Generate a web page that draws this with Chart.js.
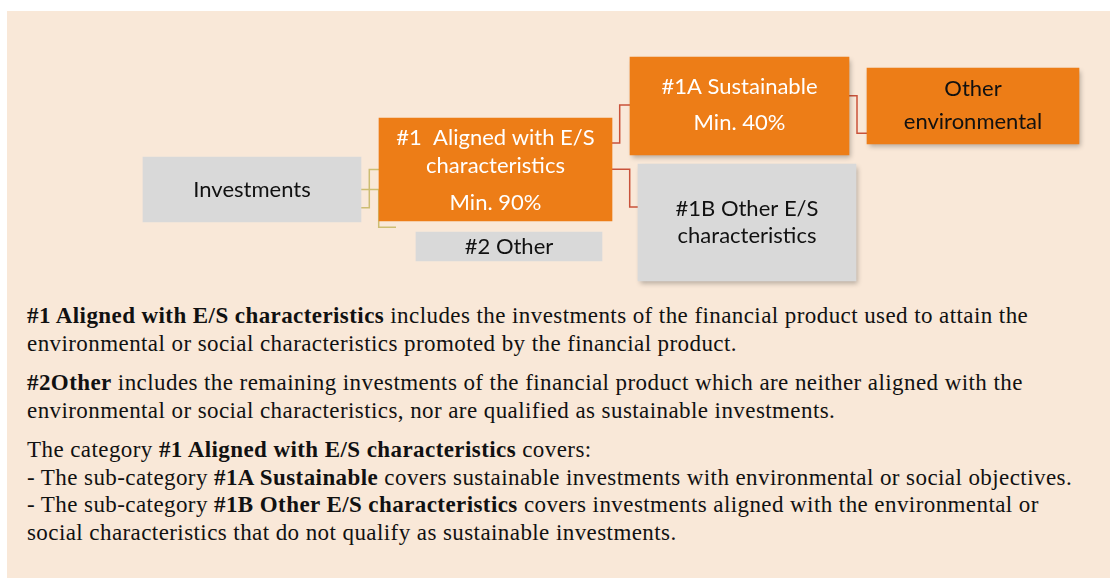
<!DOCTYPE html>
<html>
<head>
<meta charset="utf-8">
<script src="https://cdn.jsdelivr.net/npm/chart.js@4.4.1/dist/chart.umd.min.js"></script>
<style>
  body { margin: 0; width: 1110px; height: 579px; background: #fff; position: relative; overflow: hidden; }
  #panel { position: absolute; left: 7px; top: 11px; width: 1103px; height: 567px; background: #f9e8d8; }
  #diagram { position: absolute; left: 0; top: 0; }
  #notes { position: absolute; left: 27px; top: 302px; white-space: nowrap;
           font-family: "Liberation Serif", "Times New Roman", serif; font-size: 23px; letter-spacing: 0.42px;
           line-height: 27.5px; color: #111; }
  #notes p { margin: 0 0 12px 0; }
</style>
</head>
<body>
<div id="panel"></div>
<canvas id="diagram" width="1110" height="290"></canvas>
<div id="notes">
  <p><b>#1 Aligned with E/S characteristics</b> includes the investments of the financial product used to attain the<br>environmental or social characteristics promoted by the financial product.</p>
  <p><b>#2Other</b> includes the remaining investments of the financial product which are neither aligned with the<br>environmental or social characteristics, nor are qualified as sustainable investments.</p>
  <p>The category <b>#1 Aligned with E/S characteristics</b> covers:<br>- The sub-category <b>#1A Sustainable</b> covers sustainable investments with environmental or social objectives.<br>- The sub-category <b>#1B Other E/S characteristics</b> covers investments aligned with the environmental or<br>social characteristics that do not qualify as sustainable investments.</p>
</div>
<script>
// asset allocation tree: investments split into #1 / #2, #1 split into #1A / #1B

// data
const boxNames = ["Investments", "#1 Aligned with E/S characteristics", "#2 Other",
  "#1A Sustainable", "Other environmental", "#1B Other E/S characteristics"];
const boxLines = [["Investments"], ["#1  Aligned with E/S", "characteristics"], ["#2 Other"],
  ["#1A Sustainable"], ["Other", "environmental"], ["#1B Other E/S", "characteristics"]];
const minShares = [null, 90, null, 40, null, null];
const parentOf = [null, 0, 0, 1, 3, 1];

// layout (page pixels): [left, right, top, bottom]
const boxRects = [
  [143, 361, 157, 222],
  [379, 612, 118, 221],
  [416, 602, 232, 261],
  [630, 849, 57, 155],
  [867, 1079, 68, 144],
  [638, 856, 164, 281],
];
// text line offsets from box centre (last one is the share line if any)
const textOffsets = [[0], [-31.5, -3.5, 33.5], [0], [-19, 17], [-17, 16], [-13.5, 13.5]];
const ORANGE = "#ed7d17";
const GREY = "#d9d9d9";
const boxFill = [GREY, ORANGE, GREY, ORANGE, ORANGE, GREY];
const textColor = ["#111", "#fff", "#111", "#fff", "#111", "#111"];
const hasShadow = [false, false, false, true, true, true];
// connector anchors per child: fy/ty = fraction of parent/child height, elbow = px left of child, gap = end px left of child
const linkStyle = [null,
  { fy: 0.78, ty: 0.5, elbow: 9.7, gap: 0, color: "#cdbd72" },
  { fy: 0.5, ty: -0.16, elbow: 37.3, gap: 20, color: "#cdbd72" },
  { fy: 0.243, ty: 0.49, elbow: 10.3, gap: 0, color: "#c9523a" },
  { fy: 0.395, ty: 0.86, elbow: 10, gap: 0, color: "#c9523a" },
  { fy: 0.498, ty: 0.368, elbow: 8.3, gap: 0, color: "#c9523a" },
];

const datasets = [];

// connectors (drawn first, under boxes)
parentOf.forEach((p, i) => {
  if (p === null) return;
  const a = boxRects[p], b = boxRects[i], s = linkStyle[i];
  const y0 = a[2] + s.fy * (a[3] - a[2]);
  const y1 = b[2] + s.ty * (b[3] - b[2]);
  const ex = b[0] - s.elbow;
  datasets.push({
    type: "line",
    label: boxNames[p] + " > " + boxNames[i],
    data: [{ x: a[1], y: y0 }, { x: ex, y: y0 }, { x: ex, y: y1 }, { x: b[0] - s.gap, y: y1 }],
    borderColor: s.color,
    borderWidth: 1.5,
    pointRadius: 0,
    fill: false,
    tension: 0,
    order: 2,
  });
});

// boxes as floating bars
boxRects.forEach((r, i) => {
  datasets.push({
    type: "bar",
    label: boxNames[i],
    data: [{ x: (r[0] + r[1]) / 2, y: [r[2], r[3]] }],
    barThickness: r[1] - r[0],
    backgroundColor: boxFill[i],
    borderWidth: 0,
    stack: "boxes",
    shadow: hasShadow[i],
    order: 1,
  });
});

const shadowPlugin = {
  id: "boxShadow",
  beforeDatasetDraw(chart, args) {
    const ds = chart.data.datasets[args.index];
    if (!ds.shadow) return;
    const ctx = chart.ctx;
    ctx.save();
    ctx.shadowColor = "rgba(0,0,0,0.28)";
    ctx.shadowBlur = 5;
    ctx.shadowOffsetX = 2;
    ctx.shadowOffsetY = 3;
  },
  afterDatasetDraw(chart, args) {
    const ds = chart.data.datasets[args.index];
    if (ds.shadow) chart.ctx.restore();
  },
};

const labelPlugin = {
  id: "boxLabels",
  afterDatasetsDraw(chart) {
    const ctx = chart.ctx;
    const xs = chart.scales.x, ys = chart.scales.y;
    ctx.save();
    ctx.font = '22px Lato, "Open Sans", sans-serif';
    ctx.textAlign = "center";
    ctx.textBaseline = "middle";
    boxRects.forEach((r, i) => {
      const cx = xs.getPixelForValue((r[0] + r[1]) / 2);
      const cy = ys.getPixelForValue((r[2] + r[3]) / 2);
      const lines = boxLines[i].slice();
      if (minShares[i] !== null) lines.push("Min. " + minShares[i] + "%");
      ctx.fillStyle = textColor[i];
      lines.forEach((t, k) => ctx.fillText(t, cx, cy + textOffsets[i][k]));
    });
    ctx.restore();
  },
};

new Chart(document.getElementById("diagram"), {
  type: "bar",
  data: { datasets: datasets },
  options: {
    responsive: false,
    animation: false,
    layout: { padding: 0 },
    plugins: { legend: { display: false }, tooltip: { enabled: false } },
    scales: {
      x: { type: "linear", min: 0, max: 1110, offset: false, display: false },
      y: { type: "linear", min: 0, max: 290, reverse: true, stacked: false, display: false },
    },
  },
  plugins: [shadowPlugin, labelPlugin],
});
</script>
</body>
</html>
